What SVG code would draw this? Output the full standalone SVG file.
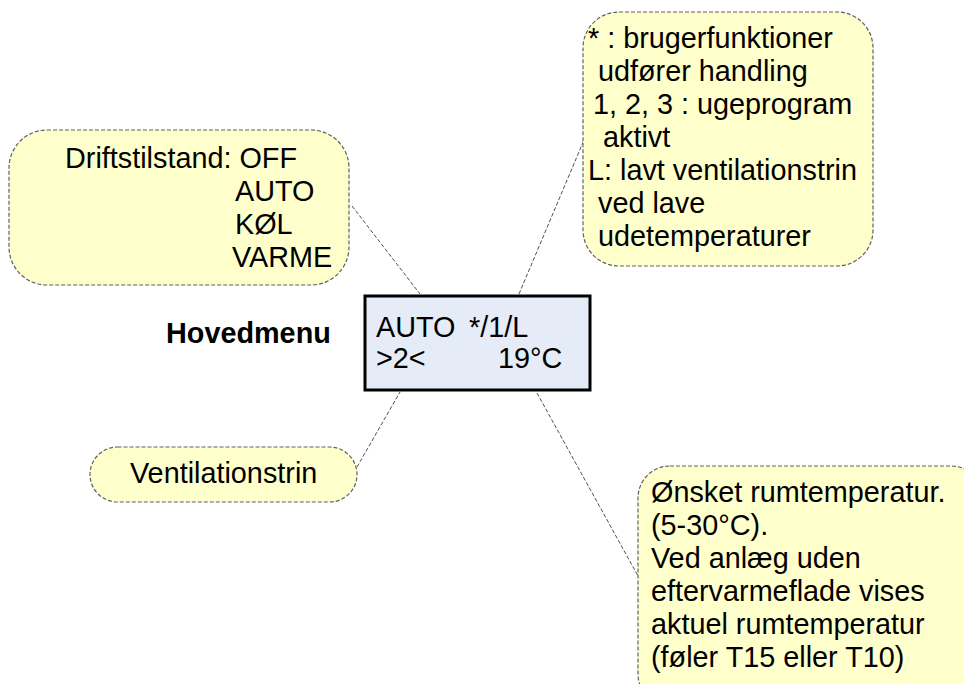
<svg xmlns="http://www.w3.org/2000/svg" width="964" height="684" viewBox="0 0 964 684">
<style>
.call{fill:#FFFFCC;stroke:#606060;stroke-width:1.2;stroke-dasharray:4,2}
.t{font-family:"Liberation Sans",Arial,sans-serif;font-size:28.8px;fill:#000}
.b{font-weight:bold}
.con{stroke:#505050;stroke-width:1;stroke-dasharray:4,2;fill:none}
</style>
<rect width="964" height="684" fill="#fff"/>
<g id="connectors">
<line class="con" x1="352" y1="206" x2="420" y2="294"/>
<line class="con" x1="519" y1="294" x2="584" y2="140"/>
<line class="con" x1="357" y1="467" x2="400" y2="392"/>
<line class="con" x1="537" y1="393" x2="638" y2="576"/>
</g>
<g id="drift">
<rect class="call" x="9" y="130" width="340" height="155" rx="38" ry="38"/>
<text class="t" x="65" y="168">Driftstilstand: OFF</text>
<text class="t" x="235" y="201">AUTO</text>
<text class="t" x="235" y="234">KØL</text>
<text class="t" x="232" y="267">VARME</text>
</g>
<g id="funktioner">
<rect class="call" x="583" y="12" width="290" height="254" rx="36" ry="36"/>
<text class="t" x="588" y="48">* : brugerfunktioner</text>
<text class="t" x="598" y="81">udfører handling</text>
<text class="t" x="593" y="114">1, 2, 3 : ugeprogram</text>
<text class="t" x="603" y="147">aktivt</text>
<text class="t" x="588" y="180">L: lavt ventilationstrin</text>
<text class="t" x="598" y="213">ved lave</text>
<text class="t" x="598" y="246">udetemperaturer</text>
</g>
<g id="hovedmenu-label">
<text class="t b" x="166" y="343" font-size="25.5">Hovedmenu</text>
</g>
<g id="display">
<rect x="365" y="296" width="225" height="94" fill="#E6ECF7" stroke="#000" stroke-width="3"/>
<text class="t" x="376" y="337">AUTO</text>
<text class="t" x="469" y="337">*/1/L</text>
<text class="t" x="376" y="368">&gt;2&lt;</text>
<text class="t" x="498" y="368">19°C</text>
</g>
<g id="ventilation">
<rect class="call" x="90" y="447" width="267" height="55" rx="27.5" ry="27.5"/>
<text class="t" x="130" y="483">Ventilationstrin</text>
</g>
<g id="rumtemp">
<rect class="call" x="638" y="466" width="345" height="240" rx="32" ry="32"/>
<text class="t" x="651" y="502">Ønsket rumtemperatur.</text>
<text class="t" x="651" y="535">(5-30°C).</text>
<text class="t" x="651" y="568">Ved anlæg uden</text>
<text class="t" x="651" y="601">eftervarmeflade vises</text>
<text class="t" x="651" y="634">aktuel rumtemperatur</text>
<text class="t" x="651" y="667">(føler T15 eller T10)</text>
</g>
</svg>
